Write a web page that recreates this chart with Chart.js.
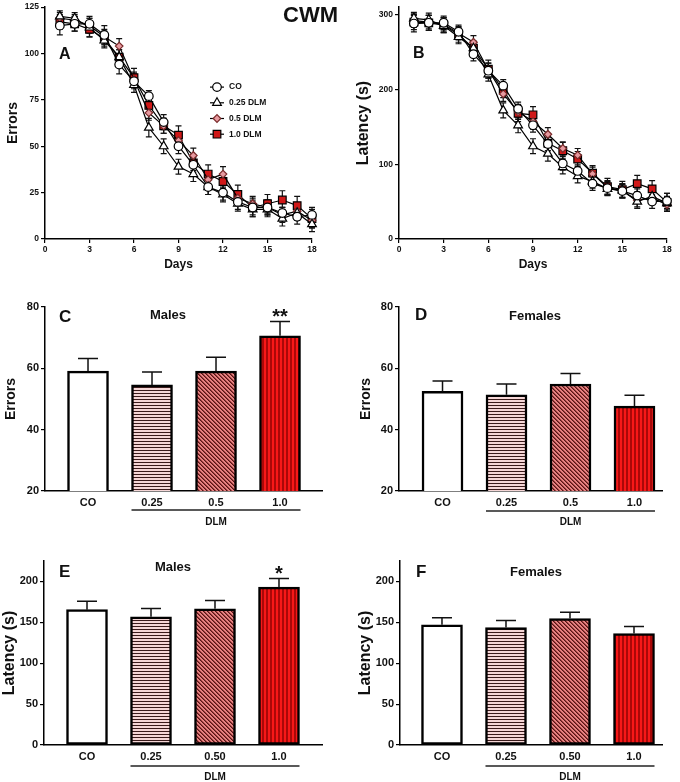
<!DOCTYPE html>
<html>
<head>
<meta charset="utf-8">
<script src="https://cdn.jsdelivr.net/npm/chart.js@4.4.1/dist/chart.umd.min.js"></script>
<style>
  html, body { margin: 0; padding: 0; background: #fff; }
  #page { position: relative; width: 680px; height: 782px; overflow: hidden; }
  #page canvas { position: absolute; }
  #cwm { position: absolute; left: 283px; top: 4px; font: bold 22px/22px "Liberation Sans", Arial, sans-serif; color: #111; }
</style>
</head>
<body>
<div id="page">
  <canvas id="panelA" width="340" height="275" style="left:0;top:0"></canvas>
  <canvas id="panelB" width="340" height="275" style="left:340px;top:0"></canvas>
  <canvas id="panelC" width="340" height="250" style="left:0;top:280px"></canvas>
  <canvas id="panelD" width="340" height="250" style="left:340px;top:280px"></canvas>
  <canvas id="panelE" width="340" height="242" style="left:0;top:540px"></canvas>
  <canvas id="panelF" width="340" height="242" style="left:340px;top:540px"></canvas>
  <div id="cwm">CWM</div>
</div>
<script>
//data - days of training
const days = [1, 2, 3, 4, 5, 6, 7, 8, 9, 10, 11, 12, 13, 14, 15, 16, 17, 18];
const dayTicks = [0, 3, 6, 9, 12, 15, 18];
const groupNames = ['CO', '0.25 DLM', '0.5 DLM', '1.0 DLM'];

//A - errors per day (mean)
const errorsCO     = [115, 116, 116, 110, 94, 85, 77, 63, 50, 40, 28, 25, 20, 17, 17, 14, 12, 13];
const errorsDLM025 = [120, 119, 114, 107, 98, 83, 60, 50, 39, 35, 28, 24, 19, 16, 16, 11, 14, 8];
const errorsDLM05  = [119, 118, 115, 109, 104, 86, 68, 61, 53, 45, 32, 35, 22, 19, 17, 13, 15, 10];
const errorsDLM10  = [117, 116, 113, 108, 98, 87, 72, 61, 56, 41, 35, 31, 24, 17, 19, 21, 18, 11];
//A - sem
const errorsCOsem     = [5, 4, 4, 5, 5, 4, 3, 4, 4, 4, 4, 4, 4, 4, 4, 3, 4, 4];
const errorsDLM025sem = [3, 3, 5, 4, 4, 4, 5, 4, 4, 4, 4, 4, 4, 4, 4, 4, 4, 4];
const errorsDLM05sem  = [3, 3, 4, 4, 4, 4, 4, 4, 4, 4, 4, 4, 4, 4, 4, 4, 4, 4];
const errorsDLM10sem  = [4, 4, 4, 4, 4, 5, 4, 4, 5, 4, 5, 4, 5, 5, 5, 5, 5, 5];
const errorsTicks = [0, 25, 50, 75, 100, 125];

//B - latency per day (mean)
const latencyCO     = [288, 289, 289, 277, 247, 225, 205, 174, 152, 127, 101, 91, 74, 68, 64, 58, 50, 51];
const latencyDLM025 = [295, 293, 285, 270, 255, 220, 172, 152, 124, 114, 96, 84, 77, 67, 65, 50, 57, 48];
const latencyDLM05  = [292, 290, 287, 275, 263, 226, 194, 170, 157, 140, 121, 112, 87, 69, 64, 52, 55, 46];
const latencyDLM10  = [290, 289, 286, 273, 255, 227, 199, 168, 166, 128, 118, 107, 88, 70, 66, 74, 67, 49];
//B - sem
const latencyCOsem     = [11, 10, 9, 9, 9, 10, 8, 9, 9, 9, 9, 8, 9, 9, 9, 9, 9, 10];
const latencyDLM025sem = [8, 9, 9, 9, 9, 9, 10, 10, 10, 10, 9, 9, 9, 9, 9, 9, 9, 9];
const latencyDLM05sem  = [9, 9, 9, 9, 9, 9, 10, 10, 10, 9, 9, 9, 9, 9, 9, 9, 9, 9];
const latencyDLM10sem  = [10, 10, 10, 10, 10, 12, 10, 11, 11, 10, 11, 10, 10, 11, 11, 11, 11, 12];
const latencyTicks = [0, 100, 200, 300];

//C-F - bar groups
const doseLabels = ['CO', '0.25', '0.5', '1.0'];
const doseLabelsLatency = ['CO', '0.25', '0.50', '1.0'];
const malesErrors = [59.1, 54.6, 59.1, 70.6];
const malesErrorsSem = [4.1, 4.2, 4.5, 4.7];
const malesErrorsStars = ['', '', '', '**'];
const femalesErrors = [52.5, 51.4, 54.9, 47.7];
const femalesErrorsSem = [3.4, 3.5, 3.4, 3.5];
const femalesErrorsStars = ['', '', '', ''];
const malesLatency = [165.5, 156.7, 166.5, 193];
const malesLatencySem = [10.2, 10.3, 10.2, 10.7];
const malesLatencyStars = ['', '', '', '*'];
const femalesLatency = [147, 143.7, 154.7, 136.3];
const femalesLatencySem = [8.5, 8.5, 7.7, 8.7];
const femalesLatencyStars = ['', '', '', ''];
const barErrorsTicks = [20, 40, 60, 80];
const barLatencyTicks = [0, 50, 100, 150, 200];

//styles
const FONT = '"Liberation Sans", Arial, sans-serif';
Chart.defaults.font.family = FONT;
Chart.defaults.font.weight = 'bold';
Chart.defaults.color = '#111';

const markers = [
  { style: 'circle', radius: 4.3, fill: '#ffffff', edge: '#000000' },
  { style: 'triangle', radius: 5, fill: '#ffffff', edge: '#000000' },
  { style: 'rectRot', radius: 3.8, fill: '#e79aa0', edge: '#7a2a2a' },
  { style: 'rect', radius: 5.4, fill: '#d01818', edge: '#000000' }
];

//bar patterns
const makePattern = (kind) => {
  const c = document.createElement('canvas');
  const g = c.getContext('2d');
  if (kind === 'white') return '#ffffff';
  if (kind === 'hstripe') {
    c.width = 4; c.height = 3;
    g.fillStyle = '#f5d6d6'; g.fillRect(0, 0, 4, 3);
    g.fillStyle = '#3a1a1a'; g.fillRect(0, 2, 4, 1);
  } else if (kind === 'diag') {
    c.width = 4; c.height = 4;
    g.fillStyle = '#e68282'; g.fillRect(0, 0, 4, 4);
    for (let x = 0; x < 4; x++) {
      for (let y = 0; y < 4; y++) {
        const k = ((x - y) % 4 + 4) % 4;
        if (k === 0) { g.fillStyle = '#541616'; g.fillRect(x, y, 1, 1); }
        if (k === 1) { g.fillStyle = '#9c3a3a'; g.fillRect(x, y, 1, 1); }
      }
    }
  } else {
    c.width = 4; c.height = 4;
    g.fillStyle = '#f71818'; g.fillRect(0, 0, 4, 4);
    g.fillStyle = '#aa0808'; g.fillRect(2, 0, 2, 4);
  }
  return g.createPattern(c, 'repeat');
};
const barFills = ['white', 'hstripe', 'diag', 'vstripe'].map(makePattern);

const fixWidth = (w) => (scale) => { scale.width = w; };
const fixHeight = (h) => (scale) => { scale.height = h; };
const useTicks = (list) => (scale) => { scale.ticks = list.map(v => ({ value: v })); };

//plugins
const errorBars = {
  id: 'errorBars',
  beforeDatasetsDraw(chart, args, opts) { if (!opts.upOnly) drawErrors(chart, opts); },
  afterDatasetsDraw(chart, args, opts) { if (opts.upOnly) drawErrors(chart, opts); }
};
function drawErrors(chart, opts) {
  const ctx = chart.ctx;
  ctx.save();
  ctx.strokeStyle = '#111';
  ctx.lineWidth = opts.width;
  chart.data.datasets.forEach((ds, d) => {
    const meta = chart.getDatasetMeta(d);
    const yScale = chart.scales[meta.yAxisID];
    meta.data.forEach((el, i) => {
      const v = ds.data[i].y, e = ds.errors[i];
      const top = yScale.getPixelForValue(v + e);
      const bot = opts.upOnly ? el.y : yScale.getPixelForValue(v - e);
      ctx.beginPath();
      ctx.moveTo(el.x, bot); ctx.lineTo(el.x, top);
      ctx.moveTo(el.x - opts.cap, top); ctx.lineTo(el.x + opts.cap, top);
      if (!opts.upOnly) { ctx.moveTo(el.x - opts.cap, bot); ctx.lineTo(el.x + opts.cap, bot); }
      ctx.stroke();
      if (ds.stars && ds.stars[i]) {
        ctx.fillStyle = '#111';
        ctx.font = `bold 20px ${FONT}`;
        ctx.textAlign = 'center';
        ctx.textBaseline = 'alphabetic';
        ctx.fillText(ds.stars[i], el.x, top + 2);
      }
    });
  });
  ctx.restore();
}

const panelText = {
  id: 'panelText',
  afterDraw(chart, args, opts) {
    const { ctx, chartArea } = chart;
    ctx.save();
    ctx.fillStyle = '#111';
    ctx.textBaseline = 'middle';
    (opts.items || []).forEach(t => {
      ctx.font = `bold ${t.size}px ${FONT}`;
      ctx.textAlign = t.align || 'left';
      ctx.fillText(t.text, chartArea.left + t.dx, chartArea.top + t.dy);
    });
    ctx.restore();
  }
};

const seriesKey = {
  id: 'seriesKey',
  afterDraw(chart, args, opts) {
    if (!opts.show) return;
    const { ctx, chartArea } = chart;
    chart.data.datasets.forEach((ds, i) => {
      const x = chartArea.left + opts.dx;
      const y = chartArea.top + opts.dy + i * opts.gap;
      ctx.save();
      ctx.strokeStyle = '#000';
      ctx.lineWidth = 1.2;
      ctx.beginPath(); ctx.moveTo(x - 7, y); ctx.lineTo(x + 7, y); ctx.stroke();
      ctx.fillStyle = ds.pointBackgroundColor;
      ctx.strokeStyle = ds.pointBorderColor;
      ctx.lineWidth = ds.pointBorderWidth;
      Chart.helpers.drawPoint(ctx, { pointStyle: ds.pointStyle, radius: ds.pointRadius, borderWidth: ds.pointBorderWidth, rotation: 0 }, x, y);
      ctx.fillStyle = '#111';
      ctx.font = `bold 8.5px ${FONT}`;
      ctx.textAlign = 'left';
      ctx.textBaseline = 'middle';
      ctx.fillText(ds.label, x + 12, y);
      ctx.restore();
    });
  }
};

const groupBracket = {
  id: 'groupBracket',
  afterDraw(chart, args, opts) {
    const { ctx, chartArea } = chart;
    const meta = chart.getDatasetMeta(0);
    const first = meta.data[opts.from], last = meta.data[opts.to];
    const x1 = first.x - first.width / 2, x2 = last.x + last.width / 2;
    const y = chartArea.bottom + opts.lineOffset;
    ctx.save();
    ctx.strokeStyle = '#222';
    ctx.lineWidth = 1.5;
    ctx.beginPath(); ctx.moveTo(x1, y); ctx.lineTo(x2, y); ctx.stroke();
    ctx.fillStyle = '#111';
    ctx.font = `bold 10px ${FONT}`;
    ctx.textAlign = 'center';
    ctx.textBaseline = 'middle';
    ctx.fillText(opts.text, (x1 + x2) / 2, chartArea.bottom + opts.textOffset);
    ctx.restore();
  }
};

const axisLine = { color: '#000', width: 1.5 };
const tickMarks = { display: true, drawOnChartArea: false, drawTicks: true, tickLength: 4, color: '#000', lineWidth: 1.2 };

//line chart (panels A, B)
function lineChart(id, means, sems, o) {
  return new Chart(document.getElementById(id), {
    type: 'line',
    data: {
      datasets: means.map((m, i) => ({
        label: groupNames[i],
        data: days.map((d, k) => ({ x: d, y: m[k] })),
        errors: sems[i],
        borderColor: '#000',
        borderWidth: 1.2,
        pointStyle: markers[i].style,
        pointRadius: markers[i].radius,
        pointBackgroundColor: markers[i].fill,
        pointBorderColor: markers[i].edge,
        pointBorderWidth: 1.2,
        tension: 0,
        clip: false
      }))
    },
    options: {
      responsive: false,
      animation: false,
      events: [],
      layout: { padding: o.pad },
      plugins: {
        legend: { display: false },
        tooltip: { enabled: false },
        errorBars: { upOnly: false, cap: 3, width: 1.2 },
        panelText: { items: o.text },
        seriesKey: o.key || { show: false }
      },
      scales: {
        x: {
          type: 'linear', min: 0, max: 18,
          afterFit: fixHeight(o.xh),
          afterBuildTicks: useTicks(dayTicks),
          ticks: { font: { size: 8.5 }, padding: 2, color: '#111' },
          grid: tickMarks, border: axisLine,
          title: { display: true, text: 'Days', font: { size: 12, lineHeight: 1 }, padding: { top: 0, bottom: 4 }, color: '#111' }
        },
        y: {
          min: 0, max: o.ymax,
          afterFit: fixWidth(o.yw),
          afterBuildTicks: useTicks(o.yticks),
          ticks: { font: { size: 8.5 }, padding: 2, color: '#111' },
          grid: tickMarks, border: axisLine,
          title: { display: true, text: o.ytitle, font: { size: o.ytsize, lineHeight: 1 }, padding: { top: o.ytpad, bottom: 0 }, color: '#111' }
        }
      }
    },
    plugins: [errorBars, panelText, seriesKey]
  });
}

//bar chart (panels C-F)
function barChart(id, labels, mean, sem, stars, o) {
  return new Chart(document.getElementById(id), {
    type: 'bar',
    data: {
      datasets: [{
        data: mean.map((v, i) => ({ x: i, y: v })),
        errors: sem,
        stars: stars,
        backgroundColor: barFills,
        borderColor: '#000',
        borderWidth: 2.5,
        borderSkipped: false,
        barThickness: 41
      }]
    },
    options: {
      responsive: false,
      animation: false,
      events: [],
      layout: { padding: o.pad },
      plugins: {
        legend: { display: false },
        tooltip: { enabled: false },
        errorBars: { upOnly: true, cap: 10, width: 1.5 },
        panelText: { items: o.text },
        groupBracket: { from: 1, to: 3, text: 'DLM', lineOffset: o.bracket[0], textOffset: o.bracket[1] }
      },
      scales: {
        x: {
          type: 'linear', offset: false, min: o.xmin, max: o.xmax,
          afterFit: fixHeight(o.xh),
          afterBuildTicks: useTicks(labels.map((_, i) => i)),
          ticks: { callback: (v) => labels[v], autoSkip: false, maxRotation: 0, padding: 5, font: { size: 11 }, color: '#111' },
          grid: { display: false, drawTicks: false },
          border: axisLine
        },
        y: {
          min: o.ymin, max: o.ymax,
          afterFit: fixWidth(o.yw),
          afterBuildTicks: useTicks(o.yticks),
          ticks: { font: { size: 11 }, padding: 2, color: '#111' },
          grid: tickMarks, border: axisLine,
          title: { display: true, text: o.ytitle, font: { size: o.ytsize, lineHeight: 1 }, padding: { top: o.ytpad, bottom: 0 }, color: '#111' }
        }
      }
    },
    plugins: [errorBars, panelText, groupBracket]
  });
}

lineChart('panelA',
  [errorsCO, errorsDLM025, errorsDLM05, errorsDLM10],
  [errorsCOsem, errorsDLM025sem, errorsDLM05sem, errorsDLM10sem],
  { pad: { top: 7, right: 28, left: 0, bottom: 0 }, xh: 36, yw: 45, ymax: 125, yticks: errorsTicks,
    ytitle: 'Errors', ytsize: 14, ytpad: 6.5,
    text: [{ text: 'A', size: 16, dx: 14, dy: 47 }],
    key: { show: true, dx: 172, dy: 80, gap: 15.7 } });

lineChart('panelB',
  [latencyCO, latencyDLM025, latencyDLM05, latencyDLM10],
  [latencyCOsem, latencyDLM025sem, latencyDLM05sem, latencyDLM10sem],
  { pad: { top: 7, right: 13, left: 0, bottom: 0 }, xh: 36, yw: 59, ymax: 310, yticks: latencyTicks,
    ytitle: 'Latency (s)', ytsize: 16, ytpad: 16,
    text: [{ text: 'B', size: 16, dx: 14, dy: 46.5 }] });

barChart('panelC', doseLabels, malesErrors, malesErrorsSem, malesErrorsStars,
  { pad: { top: 27, right: 18, left: 0, bottom: 0 }, xh: 39, yw: 45, xmin: -0.672, xmax: 3.656,
    ymin: 20, ymax: 80, yticks: barErrorsTicks, ytitle: 'Errors', ytsize: 14, ytpad: 4.3, bracket: [19, 31],
    text: [{ text: 'C', size: 17, dx: 14, dy: 10 }, { text: 'Males', size: 13, dx: 123, dy: 8, align: 'center' }] });

barChart('panelD', doseLabels, femalesErrors, femalesErrorsSem, femalesErrorsStars,
  { pad: { top: 27, right: 18, left: 0, bottom: 0 }, xh: 39, yw: 59, xmin: -0.68, xmax: 3.43,
    ymin: 20, ymax: 80, yticks: barErrorsTicks, ytitle: 'Errors', ytsize: 14, ytpad: 18.7, bracket: [20, 31],
    text: [{ text: 'D', size: 17, dx: 16, dy: 8 }, { text: 'Females', size: 13, dx: 136, dy: 9.5, align: 'center' }] });

barChart('panelE', doseLabelsLatency, malesLatency, malesLatencySem, malesLatencyStars,
  { pad: { top: 21, right: 18, left: 0, bottom: 0 }, xh: 37, yw: 44, xmin: -0.672, xmax: 3.672,
    ymin: 0, ymax: 225, yticks: barLatencyTicks, ytitle: 'Latency (s)', ytsize: 16, ytpad: 2, bracket: [21, 32],
    text: [{ text: 'E', size: 17, dx: 15, dy: 11 }, { text: 'Males', size: 13, dx: 129, dy: 6, align: 'center' }] });

barChart('panelF', doseLabelsLatency, femalesLatency, femalesLatencySem, femalesLatencyStars,
  { pad: { top: 21, right: 18, left: 0, bottom: 0 }, xh: 37, yw: 60, xmin: -0.656, xmax: 3.4375,
    ymin: 0, ymax: 225, yticks: barLatencyTicks, ytitle: 'Latency (s)', ytsize: 16, ytpad: 18, bracket: [21, 32],
    text: [{ text: 'F', size: 17, dx: 16, dy: 11 }, { text: 'Females', size: 13, dx: 136, dy: 11, align: 'center' }] });
</script>
</body>
</html>
